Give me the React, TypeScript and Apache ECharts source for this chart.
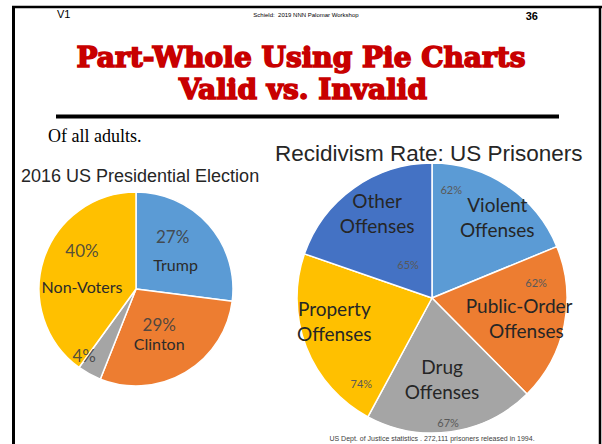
import React, { useEffect, useRef } from 'react';
import * as echarts from 'echarts';

// ---- Data ----
const electionNames = ['Trump', 'Clinton', 'Other', 'Non-Voters'];
const electionValues = [27, 29, 4, 40];
const electionLabels = ['Trump', 'Clinton', '', 'Non-Voters'];

const offenseNames = ['Violent Offenses', 'Public-Order Offenses', 'Drug Offenses', 'Property Offenses', 'Other Offenses'];
const offenseLabels = ['Violent\nOffenses', 'Public-Order\n   Offenses', 'Drug\nOffenses', 'Property\nOffenses', 'Other\nOffenses'];
const recidivismRates = [62, 62, 67, 74, 65];

// ---- Styles ----
const electionColors = ['#5B9BD5', '#ED7D31', '#A5A5A5', '#FFC000'];
const offenseColors = ['#5B9BD5', '#ED7D31', '#A5A5A5', '#FFC000', '#4472C4'];

const leftNameShift = [[1, 10], [-3, 10], [0, 0], [-5, 13]];
const leftPctShift = [[-2, -18], [-3, -9], [-27, 21], [-5, -23]];
const rightNameShift = [[26, -22], [18, 6], [0, 11], [-32, -3], [-14, -28]];
const rightPctShift = [[-20, -50], [35, -30], [6, 55], [-5, 60], [17, 24]];

const LABEL_FONT = 'Lato, "Noto Sans", sans-serif';

export default function App() {
  const ref = useRef<HTMLDivElement>(null);

  useEffect(() => {
    document.body.style.margin = '0';
    const chart = echarts.init(ref.current!, null, { renderer: 'svg' });

    const leftData = electionValues.map((v, i) => ({
      value: v,
      name: electionNames[i],
      itemStyle: { color: electionColors[i] },
    }));
    const rightData = recidivismRates.map((v, i) => ({
      value: v,
      name: offenseNames[i],
      itemStyle: { color: offenseColors[i] },
    }));

    const leftCenter = [136, 289];
    const leftRadius = 97;
    const rightCenter = [432, 298];
    const rightRadius = 135;

    const base = {
      type: 'pie',
      startAngle: 90,
      clockwise: true,
      silent: true,
      avoidLabelOverlap: false,
      labelLine: { show: false },
      emphasis: { disabled: true },
    };

    const titleFont = 'bold 28px "DejaVu Serif", serif';

    const option = {
      animation: false,
      backgroundColor: '#ffffff',
      series: [
        {
          ...base,
          center: leftCenter,
          radius: [0, leftRadius],
          data: leftData,
          itemStyle: { borderColor: '#ffffff', borderWidth: 1.5 },
          label: {
            show: true,
            position: 'inside',
            formatter: (p: any) => electionLabels[p.dataIndex],
            color: '#2b2b2b',
            fontFamily: LABEL_FONT,
            fontSize: 16,
          },
          labelLayout: (p: any) => ({ dx: leftNameShift[p.dataIndex][0], dy: leftNameShift[p.dataIndex][1] }),
        },
        {
          ...base,
          center: leftCenter,
          radius: [0, leftRadius],
          data: electionValues.map((v, i) => ({ value: v, name: electionNames[i] })),
          itemStyle: { color: 'rgba(0,0,0,0)', borderWidth: 0 },
          label: {
            show: true,
            position: 'inside',
            formatter: (p: any) => `${p.value}%`,
            color: 'rgba(64,64,64,0.9)',
            fontFamily: LABEL_FONT,
            fontSize: 17,
          },
          labelLayout: (p: any) => ({ dx: leftPctShift[p.dataIndex][0], dy: leftPctShift[p.dataIndex][1] }),
        },
        {
          ...base,
          center: rightCenter,
          radius: [0, rightRadius],
          data: rightData,
          itemStyle: { borderColor: '#ffffff', borderWidth: 1.5 },
          label: {
            show: true,
            position: 'inside',
            formatter: (p: any) => offenseLabels[p.dataIndex],
            color: '#262626',
            fontFamily: LABEL_FONT,
            fontSize: 19,
            lineHeight: 25,
          },
          labelLayout: (p: any) => ({ dx: rightNameShift[p.dataIndex][0], dy: rightNameShift[p.dataIndex][1] }),
        },
        {
          ...base,
          center: rightCenter,
          radius: [0, rightRadius],
          data: recidivismRates.map((v, i) => ({ value: v, name: offenseNames[i] })),
          itemStyle: { color: 'rgba(0,0,0,0)', borderWidth: 0 },
          label: {
            show: true,
            position: 'inside',
            formatter: (p: any) => `${p.value}%`,
            color: '#595959',
            fontFamily: LABEL_FONT,
            fontSize: 11,
          },
          labelLayout: (p: any) => ({ dx: rightPctShift[p.dataIndex][0], dy: rightPctShift[p.dataIndex][1] }),
        },
      ],
      graphic: [
        { type: 'line', shape: { x1: 12, y1: 7, x2: 602, y2: 7 }, style: { stroke: '#000', lineWidth: 2.5 } },
        { type: 'line', shape: { x1: 13.5, y1: 6, x2: 13.5, y2: 444 }, style: { stroke: '#000', lineWidth: 3 } },
        { type: 'line', shape: { x1: 600, y1: 6, x2: 600, y2: 444 }, style: { stroke: '#000', lineWidth: 2.5 } },
        { type: 'line', shape: { x1: 56, y1: 116.5, x2: 559, y2: 116.5 }, style: { stroke: '#000', lineWidth: 4 } },
        {
          type: 'text', x: 57, y: 14,
          style: { text: 'V1', font: '11px "Liberation Sans", Arial, sans-serif', fill: '#000', verticalAlign: 'middle' },
        },
        {
          type: 'text', x: 306, y: 15,
          style: { text: 'Schield:  2019 NNN Palomar Workshop', font: '6px "Liberation Sans", Arial, sans-serif', fill: '#000', align: 'center', verticalAlign: 'middle' },
        },
        {
          type: 'text', x: 538, y: 16,
          style: { text: '36', font: 'bold 11px "Liberation Sans", Arial, sans-serif', fill: '#000', align: 'right', verticalAlign: 'middle' },
        },
        {
          type: 'text', x: 301, y: 57,
          style: { text: 'Part-Whole Using Pie Charts', font: titleFont, fill: '#C80000', stroke: '#C80000', lineWidth: 1.6, align: 'center', verticalAlign: 'middle' },
        },
        {
          type: 'text', x: 303, y: 89,
          style: { text: 'Valid vs. Invalid', font: titleFont, fill: '#C80000', stroke: '#C80000', lineWidth: 1.6, align: 'center', verticalAlign: 'middle' },
        },
        {
          type: 'text', x: 48, y: 145,
          style: { text: 'Of all adults.', font: '18px "Liberation Serif", "Times New Roman", serif', fill: '#000', verticalAlign: 'bottom' },
        },
        {
          type: 'text', x: 21, y: 176,
          style: { text: '2016 US Presidential Election', font: '18px "Liberation Sans", Arial, sans-serif', fill: '#262626', verticalAlign: 'middle' },
        },
        {
          type: 'text', x: 275, y: 153,
          style: { text: 'Recidivism Rate: US Prisoners', font: '22.5px "Liberation Sans", Arial, sans-serif', fill: '#262626', verticalAlign: 'middle' },
        },
        {
          type: 'text', x: 432, y: 438,
          style: { text: 'US Dept. of Justice statistics . 272,111 prisoners released in 1994.', font: '7px "Liberation Sans", Arial, sans-serif', fill: '#404040', align: 'center', verticalAlign: 'middle' },
        },
      ],
    };

    chart.setOption(option as any);
    return () => chart.dispose();
  }, []);

  return <div ref={ref} style={{ width: 602, height: 444 }} />;
}
